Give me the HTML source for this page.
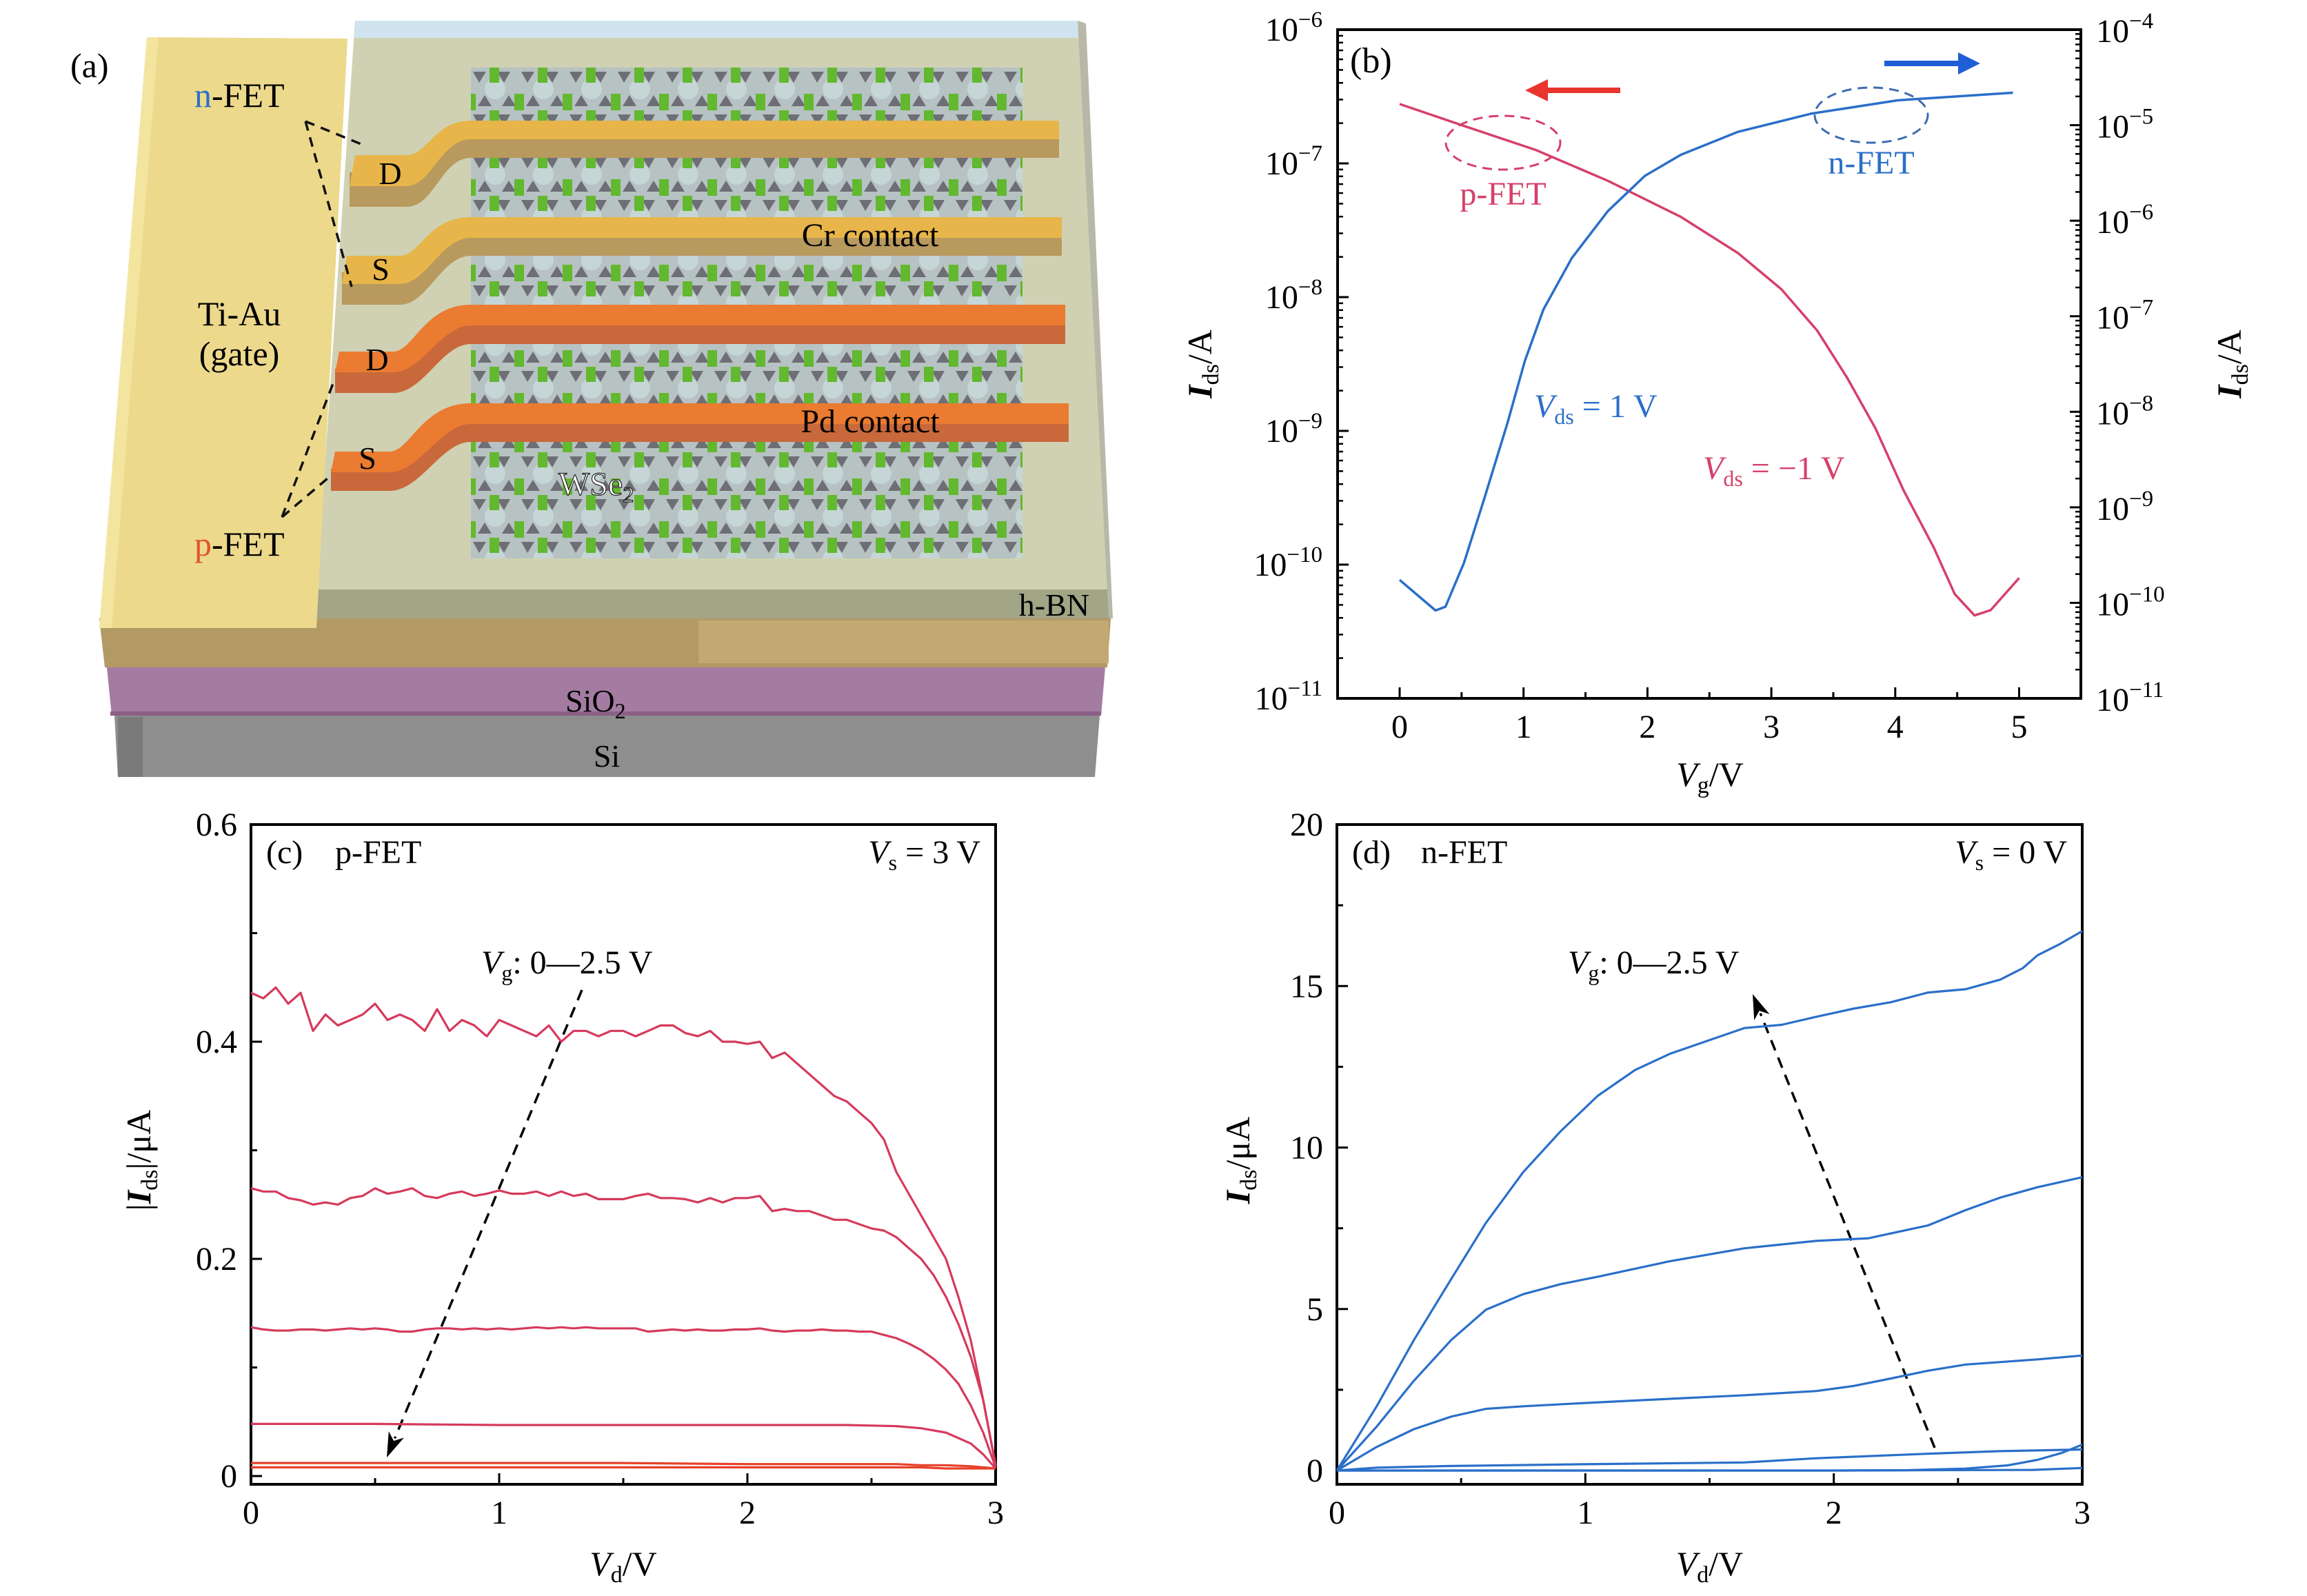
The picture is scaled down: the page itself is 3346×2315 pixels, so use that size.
<!DOCTYPE html>
<html><head><meta charset="utf-8"><style>
html,body{margin:0;padding:0;background:#fff}
svg{display:block;font-family:"Liberation Serif",serif}
</style></head><body>
<svg id="fig" width="3346" height="2315" viewBox="0 0 3346 2315" xmlns="http://www.w3.org/2000/svg">
<defs>
<pattern id="lat" x="683" y="98" width="70" height="62" patternUnits="userSpaceOnUse">
<rect width="70" height="62" fill="#b7c2c2"/>
<circle cx="35" cy="31" r="15" fill="#c6d6d6"/>
<path d="M3 6 L22 6 L12 22 Z M38 6 L57 6 L48 22 Z" fill="#6e6e76"/>
<path d="M20 40 L30 56 L10 56 Z M55 40 L65 56 L45 56 Z" fill="#6e6e76"/>
<rect x="27" y="0" width="14" height="22" fill="#62b82e"/>
<rect x="-7" y="38" width="14" height="24" fill="#62b82e"/>
<rect x="63" y="38" width="14" height="24" fill="#62b82e"/>
</pattern>
</defs>

<g>
<polygon points="166,1038 1595,1038 1588,1127 171,1127" fill="#8e8e8e"/>
<rect x="171" y="1040" width="36" height="87" fill="#7a7a7a"/>
<polygon points="155,968 1603,968 1597,1038 162,1038" fill="#a47ca2"/>
<rect x="160" y="1032" width="1437" height="6" fill="#8a5f88"/>
<polygon points="144,897 1611,897 1606,968 152,968" fill="#b39a64"/>
<rect x="1013" y="900" width="595" height="62" fill="#c2a972"/>
<polygon points="515,30 1563,30 1611,855 459,855" fill="#cfd1b2"/>
<polygon points="515,30 1563,30 1565,55 514,55" fill="#cfe4ee"/>
<polygon points="459,855 1611,855 1611,897 459,897" fill="#a2a586"/>
<polygon points="1563,30 1575,34 1614,897 1608,897" fill="#b7b8a8"/>
<polygon points="213,54 504,56 459,911 144,911" fill="#ecd98c"/>
<polygon points="213,54 230,54 162,911 144,911" fill="#f3e5a0"/>
<rect x="683" y="98" width="800" height="712" fill="url(#lat)"/>
<g>
<path d="M507,250 L590,250 C620,250 630,202 683,202 L1536,202 L1536,229 L683,229 C640,229 630,300 590,300 L507,300 Z" fill="#b8995e"/>
<path d="M515,225 L590,225 C620,225 630,175 683,175 L1536,175 L1536,202 L683,202 C640,202 625,270 590,270 L507,270 Z" fill="#e7b549"/>
</g>
<g>
<path d="M496,395 L580,395 C610,395 620,345 683,345 L1540,345 L1540,371 L683,371 C640,371 620,442 580,442 L496,442 Z" fill="#b8995e"/>
<path d="M503,371 L580,371 C610,371 620,315 683,315 L1540,315 L1540,345 L683,345 C640,345 618,412 580,412 L496,412 Z" fill="#e7b549"/>
</g>
<g>
<path d="M486,535 L570,535 C600,535 620,472 683,472 L1545,472 L1545,499 L683,499 C640,499 615,570 570,570 L486,570 Z" fill="#c9683a"/>
<path d="M492,510 L570,510 C600,510 615,442 683,442 L1545,442 L1545,472 L683,472 C640,472 612,540 570,540 L486,540 Z" fill="#ea7b30"/>
</g>
<g>
<path d="M480,680 L565,680 C595,680 615,615 683,615 L1550,615 L1550,641 L683,641 C640,641 610,712 565,712 L480,712 Z" fill="#c9683a"/>
<path d="M486,655 L565,655 C595,655 612,585 683,585 L1550,585 L1550,615 L683,615 C640,615 608,685 565,685 L480,685 Z" fill="#ea7b30"/>
</g>
<g stroke="#111" stroke-width="3.5" stroke-dasharray="14,10" fill="none">
<line x1="443" y1="176" x2="531" y2="212"/>
<line x1="443" y1="176" x2="510" y2="416"/>
<line x1="409" y1="750" x2="485" y2="551"/>
<line x1="409" y1="750" x2="475" y2="694"/>
</g>
<text x="102" y="112" font-size="50">(a)</text>
<text x="282" y="155" font-size="50"><tspan fill="#2a6fc9">n</tspan>-FET</text>
<text x="282" y="806" font-size="50"><tspan fill="#e0552a">p</tspan>-FET</text>
<text x="347" y="472" font-size="50" text-anchor="middle">Ti-Au</text>
<text x="347" y="530" font-size="50" text-anchor="middle">(gate)</text>
<text x="566" y="267" font-size="46" text-anchor="middle">D</text>
<text x="552" y="406" font-size="46" text-anchor="middle">S</text>
<text x="547" y="537" font-size="46" text-anchor="middle">D</text>
<text x="533" y="680" font-size="46" text-anchor="middle">S</text>
<text x="1262" y="357" font-size="48" text-anchor="middle">Cr contact</text>
<text x="1262" y="627" font-size="48" text-anchor="middle">Pd contact</text>
<text x="810" y="718" font-size="48" fill="#fff" stroke="#222" stroke-width="1.2">WSe<tspan font-size="32" dy="10">2</tspan></text>
<text x="1580" y="893" font-size="46" text-anchor="end">h-BN</text>
<text x="820" y="1032" font-size="46">SiO<tspan font-size="32" dy="10">2</tspan></text>
<text x="880" y="1112" font-size="46" text-anchor="middle">Si</text>
</g>

<g id="pb"></g>
<g id="pc"></g>
<g id="pd"></g>
</svg>
<script>
// ---------- Panel (b) data ----------
const bNVg = [0,0.29,0.37,0.52,0.69,0.87,1.01,1.16,1.39,1.68,1.98,2.27,2.73,3.32,4.02,4.60,4.95];
const bNLogI = [-9.76,-10.08,-10.04,-9.58,-8.88,-8.12,-7.47,-6.93,-6.39,-5.90,-5.53,-5.31,-5.07,-4.88,-4.74,-4.69,-4.66];
const bPVg = [0,0.52,1.10,1.68,2.27,2.73,3.08,3.37,3.61,3.84,4.07,4.31,4.48,4.64,4.77,5.0];
const bPLogI = [-6.556,-6.72,-6.90,-7.13,-7.40,-7.67,-7.94,-8.25,-8.60,-8.98,-9.45,-9.87,-10.22,-10.38,-10.34,-10.10];
const bXTicks = [0,1,2,3,4,5];
const bLeftTicks = [-6,-7,-8,-9,-10,-11];
const bRightTicks = [-4,-5,-6,-7,-8,-9,-10,-11];

// ---------- Panel (c) data ----------
const cVd = [0,0.05,0.1,0.15,0.2,0.25,0.3,0.35,0.4,0.45,0.5,0.55,0.6,0.65,0.7,0.75,0.8,0.85,0.9,0.95,1.0,1.05,1.1,1.15,1.2,1.25,1.3,1.35,1.4,1.45,1.5,1.55,1.6,1.65,1.7,1.75,1.8,1.85,1.9,1.95,2.0,2.05,2.1,2.15,2.2,2.25,2.3,2.35,2.4,2.45,2.5,2.55,2.6,2.65,2.7,2.75,2.8,2.85,2.9,2.95,3.0];
const cI1 = [0.445,0.44,0.45,0.435,0.445,0.41,0.425,0.415,0.42,0.425,0.435,0.42,0.425,0.42,0.41,0.43,0.41,0.42,0.415,0.405,0.42,0.415,0.41,0.405,0.415,0.40,0.41,0.41,0.405,0.41,0.41,0.405,0.41,0.415,0.415,0.408,0.405,0.41,0.40,0.40,0.398,0.40,0.385,0.39,0.38,0.37,0.36,0.35,0.345,0.335,0.325,0.31,0.28,0.26,0.24,0.22,0.20,0.165,0.125,0.07,0.01];
const cI2 = [0.265,0.262,0.262,0.256,0.254,0.25,0.252,0.25,0.256,0.258,0.265,0.26,0.262,0.265,0.258,0.256,0.26,0.262,0.258,0.26,0.263,0.26,0.26,0.262,0.258,0.262,0.258,0.26,0.255,0.255,0.255,0.258,0.26,0.256,0.256,0.255,0.252,0.256,0.252,0.256,0.256,0.258,0.244,0.246,0.244,0.244,0.24,0.236,0.236,0.232,0.228,0.226,0.22,0.21,0.2,0.185,0.165,0.14,0.11,0.07,0.01];
const cI3 = [0.137,0.135,0.134,0.134,0.135,0.135,0.134,0.135,0.136,0.135,0.136,0.135,0.133,0.133,0.135,0.136,0.136,0.135,0.136,0.135,0.136,0.135,0.136,0.137,0.136,0.137,0.136,0.137,0.136,0.136,0.136,0.136,0.133,0.134,0.135,0.134,0.135,0.134,0.134,0.135,0.135,0.136,0.134,0.133,0.134,0.134,0.135,0.134,0.134,0.133,0.133,0.13,0.127,0.122,0.116,0.108,0.098,0.085,0.065,0.04,0.008];
const cVdS = [0,0.5,1.0,1.5,2.0,2.4,2.6,2.7,2.8,2.9,2.95,3.0];
const cI4 = [0.048,0.048,0.047,0.047,0.047,0.047,0.046,0.044,0.040,0.030,0.020,0.007];
const cI5 = [0.012,0.012,0.012,0.012,0.011,0.011,0.011,0.010,0.010,0.009,0.008,0.007];
const cI6 = [0.008,0.008,0.008,0.008,0.008,0.008,0.008,0.008,0.007,0.007,0.007,0.007];
const cXTicks = [0,1,2,3];
const cYTicks = [0,0.2,0.4,0.6];
const cYTickLabels = ["0","0.2","0.4","0.6"];

// ---------- Panel (d) data ----------
const dVd1 = [0,0.16,0.31,0.46,0.60,0.75,0.90,1.05,1.20,1.34,1.49,1.64,1.79,1.93,2.08,2.23,2.38,2.53,2.67,2.76,2.82,2.91,3.0];
const dI1 = [0,1.99,4.04,5.93,7.67,9.24,10.5,11.6,12.4,12.9,13.3,13.7,13.8,14.05,14.3,14.5,14.8,14.9,15.2,15.55,15.95,16.3,16.7];
const dVd2 = [0,0.16,0.31,0.46,0.60,0.75,0.90,1.05,1.34,1.64,1.93,2.14,2.38,2.53,2.67,2.82,3.0];
const dI2 = [0,1.36,2.78,4.04,4.98,5.46,5.77,6.0,6.48,6.88,7.11,7.19,7.59,8.06,8.45,8.77,9.08];
const dVd3 = [0,0.16,0.31,0.46,0.60,0.75,1.05,1.34,1.64,1.93,2.08,2.23,2.38,2.53,2.82,3.0];
const dI3 = [0,0.73,1.28,1.67,1.91,1.99,2.11,2.22,2.33,2.46,2.62,2.85,3.09,3.28,3.44,3.56];
const dVd4 = [0,0.16,0.46,1.05,1.64,1.93,2.38,2.67,3.0];
const dI4 = [0,0.09,0.14,0.2,0.25,0.38,0.52,0.6,0.65];
const dVd5 = [0,1.0,2.0,2.3,2.53,2.7,2.82,2.92,3.0];
const dI5 = [0,0,0,0.01,0.06,0.16,0.33,0.55,0.8];
const dVd6 = [0,1.0,2.0,2.8,3.0];
const dI6 = [0,0,0,0.02,0.08];
const dXTicks = [0,1,2,3];
const dYTicks = [0,5,10,15,20];

const NS = "http://www.w3.org/2000/svg";
function mk(parent, tag, attrs){
  const el = document.createElementNS(NS, tag);
  for (const k in attrs) el.setAttribute(k, attrs[k]);
  parent.appendChild(el);
  return el;
}
function poly(xs, ys, fx, fy){
  return xs.map((v,i)=>(i?'L':'M')+fx(v).toFixed(1)+','+fy(ys[i]).toFixed(1)).join(' ');
}
const FS = 48;

// ---------- Panel (b) ----------
(function(){
  const g = document.getElementById('pb');
  const L=1940,R=3018,T=43,B=1013;
  const xb = v => 2030 + v*179.7;
  const yL = l => T + (-6-l)*(B-T)/5;
  const yR = l => T + (-4-l)*(B-T)/7;
  const box = mk(g,'rect',{x:L,y:T,width:R-L,height:B-T,fill:'none',stroke:'#000','stroke-width':4});
  
  
  bXTicks.forEach(v=>{
    const t = mk(g,'line',{x1:xb(v),x2:xb(v),y1:B,y2:B-16,stroke:'#000','stroke-width':3});
    
    
    const m = mk(g,'line',{x1:xb(v+0.5),x2:xb(v+0.5),y1:B,y2:B-9,stroke:'#000','stroke-width':3});
    
    
    const tx = mk(g,'text',{x:xb(v),y:1070,'font-size':FS,'text-anchor':'middle'});
    tx.textContent = String(v);
    
    
  });
  bLeftTicks.forEach(l=>{
    const t = mk(g,'line',{x1:L,x2:L+16,y1:yL(l),y2:yL(l),stroke:'#000','stroke-width':3});
    
    
    if (l>-11) for(let k=2;k<10;k++){
      const yy = yL(l-1+Math.log10(k));
      const m = mk(g,'line',{x1:L,x2:L+8,y1:yy,y2:yy,stroke:'#000','stroke-width':2.5});
      
      
    }
    const tx = mk(g,'text',{x:1918,y:yL(l)+16,'font-size':FS,'text-anchor':'end'});
    tx.innerHTML = '10<tspan font-size="33" dy="-20">−'+(-l)+'</tspan>';
    
    
  });
  bRightTicks.forEach(l=>{
    const t = mk(g,'line',{x1:R,x2:R-16,y1:yR(l),y2:yR(l),stroke:'#000','stroke-width':3});
    
    
    if (l>-11) for(let k=2;k<10;k++){
      const yy = yR(l-1+Math.log10(k));
      const m = mk(g,'line',{x1:R,x2:R-8,y1:yy,y2:yy,stroke:'#000','stroke-width':2.5});
      
      
    }
    const tx = mk(g,'text',{x:3040,y:yR(l)+18,'font-size':FS});
    tx.innerHTML = '10<tspan font-size="33" dy="-20">−'+(-l)+'</tspan>';
    
    
  });
  const xt = mk(g,'text',{x:2480,y:1140,'font-size':50,'text-anchor':'middle'});
  xt.innerHTML = '<tspan font-style="italic">V</tspan><tspan font-size="34" dy="10">g</tspan><tspan dy="-10">/V</tspan>';
  
  
  const yt = mk(g,'text',{x:0,y:0,'font-size':50,'text-anchor':'middle',transform:'translate(1757,528) rotate(-90)'});
  yt.innerHTML = '<tspan font-style="italic" font-weight="bold">I</tspan><tspan font-size="34" dy="10">ds</tspan><tspan dy="-10">/A</tspan>';
  
  
  const yt2 = mk(g,'text',{x:0,y:0,'font-size':50,'text-anchor':'middle',transform:'translate(3250,528) rotate(-90)'});
  yt2.innerHTML = '<tspan font-style="italic" font-weight="bold">I</tspan><tspan font-size="34" dy="10">ds</tspan><tspan dy="-10">/A</tspan>';
  
  
  const pr = mk(g,'path',{d:poly(bPVg,bPLogI,xb,yL),fill:'none',stroke:'#d6406a','stroke-width':3.5,'stroke-linejoin':'round'});
  
  
  const pn = mk(g,'path',{d:poly(bNVg,bNLogI,xb,yR),fill:'none',stroke:'#2a6fc9','stroke-width':3.5,'stroke-linejoin':'round'});
  
  
  const e1 = mk(g,'ellipse',{cx:2180,cy:207,rx:83,ry:39,fill:'none',stroke:'#d6406a','stroke-width':3,'stroke-dasharray':'14,9'});
  
  
  const e2 = mk(g,'ellipse',{cx:2714,cy:167,rx:82,ry:40,fill:'none',stroke:'#3f6cb0','stroke-width':3,'stroke-dasharray':'14,9'});
  
  
  const a1 = mk(g,'path',{d:'M2350,127 L2245,127 L2245,115 L2212,131 L2245,147 L2245,135 L2350,135 Z',fill:'#e8352e'});
  
  
  const a2 = mk(g,'path',{d:'M2733,88 L2840,88 L2840,76 L2872,92 L2840,108 L2840,96 L2733,96 Z',fill:'#1f5fd6'});
  
  
  const lb = mk(g,'text',{x:1958,y:105,'font-size':52});
  lb.textContent='(b)';
  
  
  const t1 = mk(g,'text',{x:2180,y:297,'font-size':FS,'text-anchor':'middle',fill:'#d6406a'});
  t1.textContent='p-FET';
  
  
  const t2 = mk(g,'text',{x:2714,y:252,'font-size':FS,'text-anchor':'middle',fill:'#2a6fc9'});
  t2.textContent='n-FET';
  
  
  const t3 = mk(g,'text',{x:2225,y:605,'font-size':FS,fill:'#2a6fc9'});
  t3.innerHTML='<tspan font-style="italic">V</tspan><tspan font-size="32" dy="10">ds</tspan><tspan dy="-10"> = 1 V</tspan>';
  
  
  const t4 = mk(g,'text',{x:2470,y:695,'font-size':FS,fill:'#d6406a'});
  t4.innerHTML='<tspan font-style="italic">V</tspan><tspan font-size="32" dy="10">ds</tspan><tspan dy="-10"> = −1 V</tspan>';
  
  
})();

function outChart(gid, L, R, T, B, y0, yScale, xTicks, yTicks, yLabels, yMinors, tagText, nameText, vsText, vgX, arrow, tag){
  const g = document.getElementById(gid);
  const xf = v => L + v*(R-L)/3;
  const yf = v => y0 - v*yScale;
  const box = mk(g,'rect',{x:L,y:T,width:R-L,height:B-T,fill:'none',stroke:'#000','stroke-width':4});
  
  
  xTicks.forEach(v=>{
    const t = mk(g,'line',{x1:xf(v),x2:xf(v),y1:B,y2:B-16,stroke:'#000','stroke-width':3});
    
    
    if (v<3){
      const m = mk(g,'line',{x1:xf(v+0.5),x2:xf(v+0.5),y1:B,y2:B-9,stroke:'#000','stroke-width':3});
      
      
    }
    const tx = mk(g,'text',{x:xf(v),y:2210,'font-size':FS,'text-anchor':'middle'});
    tx.textContent = String(v);
    
    
  });
  yTicks.forEach((v,i)=>{
    const t = mk(g,'line',{x1:L,x2:L+16,y1:yf(v),y2:yf(v),stroke:'#000','stroke-width':3});
    
    
    const tx = mk(g,'text',{x:L-20,y:yf(v)+16,'font-size':FS,'text-anchor':'end'});
    tx.textContent = yLabels[i];
    
    
  });
  yMinors.forEach(v=>{
    const m = mk(g,'line',{x1:L,x2:L+9,y1:yf(v),y2:yf(v),stroke:'#000','stroke-width':3});
    
    
  });
  const xt = mk(g,'text',{x:(L+R)/2,y:2285,'font-size':50,'text-anchor':'middle'});
  xt.innerHTML = '<tspan font-style="italic">V</tspan><tspan font-size="34" dy="10">d</tspan><tspan dy="-10">/V</tspan>';
  
  
  const lab = mk(g,'text',{x:L+22,y:1252,'font-size':FS});
  lab.textContent = tagText;
  
  
  const lab2 = mk(g,'text',{x:L+122,y:1252,'font-size':FS});
  lab2.textContent = nameText;
  
  
  const vs = mk(g,'text',{x:R-22,y:1252,'font-size':FS,'text-anchor':'end'});
  vs.innerHTML = '<tspan font-style="italic">V</tspan><tspan font-size="32" dy="10">s</tspan><tspan dy="-10"> = '+vsText+' V</tspan>';
  
  
  const vg = mk(g,'text',{x:vgX,y:1412,'font-size':FS});
  vg.innerHTML = '<tspan font-style="italic">V</tspan><tspan font-size="32" dy="10">g</tspan><tspan dy="-10">: 0—2.5 V</tspan>';
  
  
  const [x1,y1,x2,y2] = arrow;
  const ang = Math.atan2(y2-y1,x2-x1);
  const hx = x2 - 30*Math.cos(ang), hy = y2 - 30*Math.sin(ang);
  const ln = mk(g,'line',{x1:x1,y1:y1,x2:hx,y2:hy,stroke:'#000','stroke-width':3.5,'stroke-dasharray':'16,11'});
  
  
  const px = -Math.sin(ang), py = Math.cos(ang);
  const hd = mk(g,'polygon',{points:`${x2},${y2} ${x2-36*Math.cos(ang)+12*px},${y2-36*Math.sin(ang)+12*py} ${x2-26*Math.cos(ang)},${y2-26*Math.sin(ang)} ${x2-36*Math.cos(ang)-12*px},${y2-36*Math.sin(ang)-12*py}`,fill:'#000'});
  
  
  return {g,xf,yf};
}

(function(){
  const c = outChart('pc',364,1444,1196,2153,2141,1575,cXTicks,cYTicks,cYTickLabels,[0.1,0.3,0.5],'(c)','p-FET',3,698,[844,1436,561,2114],'c');
  const col = '#d63a5c';
  [[cVdS,cI6,'#e8402a'],[cVdS,cI5,'#e8402a'],[cVdS,cI4,col],[cVd,cI3,col],[cVd,cI2,col],[cVd,cI1,col]].forEach((s,i)=>{
    const p = mk(c.g,'path',{d:poly(s[0],s[1],c.xf,c.yf),fill:'none',stroke:s[2],'stroke-width':3.2,'stroke-linejoin':'round'});
    
    
  });
  const yt = mk(c.g,'text',{x:0,y:0,'font-size':50,'text-anchor':'middle',transform:'translate(218,1683) rotate(-90)'});
  yt.innerHTML = '|<tspan font-style="italic" font-weight="bold">I</tspan><tspan font-size="34" dy="10">ds</tspan><tspan dy="-10">|/μA</tspan>';
  
  
})();

(function(){
  const d = outChart('pd',1939,3020,1196,2153,2133,46.85,dXTicks,dYTicks,["0","5","10","15","20"],[2.5,7.5,12.5,17.5],'(d)','n-FET',0,2274,[2806,2100,2542,1442],'d');
  const col = '#2a6fc9';
  [[dVd6,dI6],[dVd5,dI5],[dVd4,dI4],[dVd3,dI3],[dVd2,dI2],[dVd1,dI1]].forEach((s,i)=>{
    const p = mk(d.g,'path',{d:poly(s[0],s[1],d.xf,d.yf),fill:'none',stroke:col,'stroke-width':3.2,'stroke-linejoin':'round'});
    
    
  });
  const yt = mk(d.g,'text',{x:0,y:0,'font-size':50,'text-anchor':'middle',transform:'translate(1812,1683) rotate(-90)'});
  yt.innerHTML = '<tspan font-style="italic" font-weight="bold">I</tspan><tspan font-size="34" dy="10">ds</tspan><tspan dy="-10">/μA</tspan>';
  
  
})();
</script>
</body></html>
